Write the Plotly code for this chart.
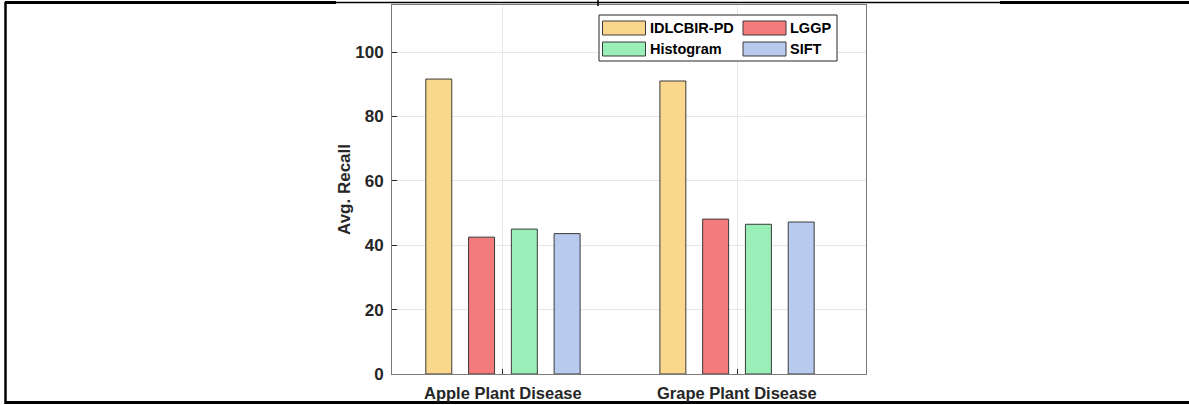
import plotly.graph_objects as go

# Recall results per dataset and method
categories = ["Apple Plant Disease", "Grape Plant Disease"]
methods = ["IDLCBIR-PD", "LGGP", "Histogram", "SIFT"]
idlcbir_pd = [91.6, 91.0]
lggp = [42.5, 48.1]
histogram = [45.0, 46.5]
sift = [43.6, 47.2]
y_ticks = [0, 20, 40, 60, 80, 100]

series = [idlcbir_pd, lggp, histogram, sift]
colors = ["#F9D78D", "#F47B7B", "#9AEFB8", "#B8CBEE"]

W, H = 1189, 405
L, R, T, B = 392, 866, 5, 374   # plot area in pixels
FONT = "Liberation Sans, Arial, sans-serif"


def px(x):
    return (x - L) / (R - L)


def py(y):
    return (B - y) / (B - T)


fig = go.Figure()
xpos = list(range(len(categories)))
for name, vals, col in zip(methods, series, colors):
    fig.add_trace(go.Bar(
        x=xpos, y=vals, name=name,
        marker=dict(color=col, line=dict(color="#3a3a3a", width=1)),
        showlegend=False,
    ))

shapes = []
annotations = []

# Legend box drawn as two columns of swatches
shapes.append(dict(type="rect", xref="paper", yref="paper",
                   x0=px(599), x1=px(837), y0=py(61), y1=py(15),
                   line=dict(color="#262626", width=1), fillcolor="white", layer="above"))
legend_layout = [(0, 602.5, 28), (1, 743, 28), (2, 602.5, 49), (3, 743, 49)]
for idx, sx, sy in legend_layout:
    shapes.append(dict(type="rect", xref="paper", yref="paper",
                       x0=px(sx), x1=px(sx + 43), y0=py(sy + 7), y1=py(sy - 7),
                       line=dict(color="#3a3a3a", width=1), fillcolor=colors[idx], layer="above"))
    annotations.append(dict(text=f"<b>{methods[idx]}</b>", xref="paper", yref="paper",
                            x=px(sx + 45), y=py(sy), xanchor="left", yanchor="middle",
                            showarrow=False, font=dict(family=FONT, size=14.5, color="#000000")))

# Category labels under each group
for xi, cat in zip(xpos, categories):
    annotations.append(dict(text=f"<b>{cat}</b>", xref="x", yref="paper",
                            x=xi, y=py(403), xanchor="center", yanchor="bottom",
                            showarrow=False, borderpad=0,
                            font=dict(family=FONT, size=16.5, color="#262626")))

# Outer table borders around the figure
line_specs = [
    (5, 2.5, 336, 2.5, 3),
    (336, 2.5, 1000, 2.5, 1.5),
    (1000, 2.5, 1189, 2.5, 3),
    (5.5, 2, 5.5, 404, 2.5),
    (5, 402.5, 1189, 402.5, 3),
    (598, 0, 598, 6, 1.5),
]
for x0, y0, x1, y1, w in line_specs:
    shapes.append(dict(type="line", xref="paper", yref="paper",
                       x0=px(x0), y0=py(y0), x1=px(x1), y1=py(y1),
                       line=dict(color="black", width=w), layer="above"))

# Y axis title
annotations.append(dict(text="<b>Avg. Recall</b>", xref="paper", yref="paper",
                        x=px(345), y=py(190), textangle=-90, showarrow=False,
                        xanchor="center", yanchor="middle",
                        font=dict(family=FONT, size=17, color="#262626")))

fig.update_layout(
    width=W, height=H,
    margin=dict(l=L, r=W - R, t=T, b=H - B, pad=0, autoexpand=False),
    paper_bgcolor="white", plot_bgcolor="white",
    barmode="group", bargap=0.269, bargroupgap=0.393,
    shapes=shapes, annotations=annotations,
    font=dict(family=FONT, color="#262626"),
)
fig.update_xaxes(
    range=[-0.474, 1.551], tickvals=xpos, showticklabels=False,
    automargin=False,
    showgrid=True, gridcolor="#e6e6e6", gridwidth=1,
    showline=True, linecolor="#7a7a7a", linewidth=1, mirror=True,
    ticks="inside", ticklen=5, tickcolor="#262626", zeroline=False,
)
fig.update_yaxes(
    range=[0, 114.6], tickvals=y_ticks,
    ticktext=[f"<b>{v}</b>" for v in y_ticks],
    tickfont=dict(family=FONT, size=17, color="#262626"),
    ticklabelstandoff=4, automargin=False,
    showgrid=True, gridcolor="#e6e6e6", gridwidth=1,
    showline=True, linecolor="#7a7a7a", linewidth=1, mirror=True,
    ticks="inside", ticklen=5, tickcolor="#262626", zeroline=False,
)

fig.write_html("out.html")
